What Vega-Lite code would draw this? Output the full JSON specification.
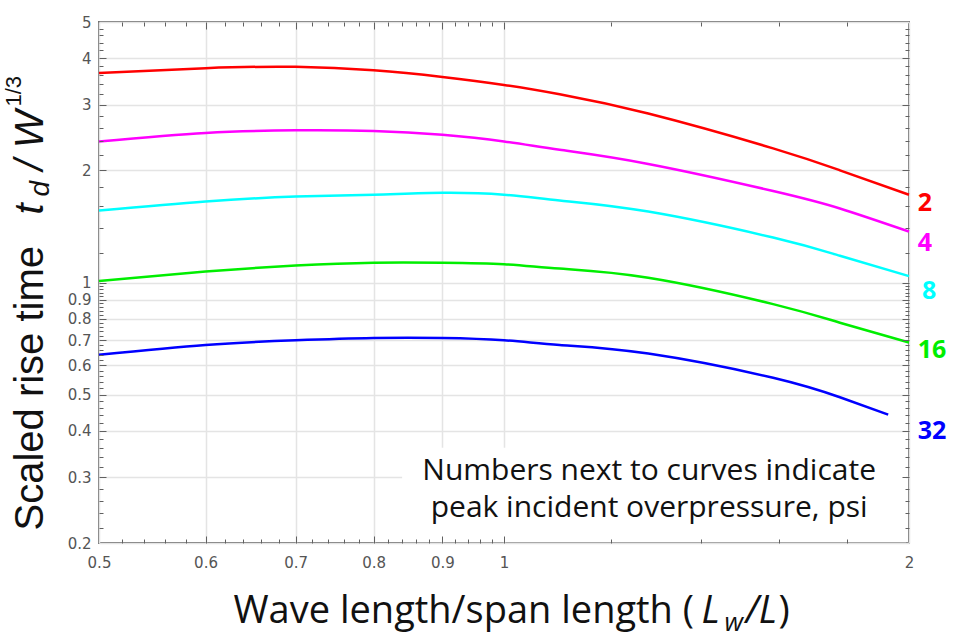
{
  "$schema": "https://vega.github.io/schema/vega-lite/v6.json",
  "width": 810,
  "height": 521,
  "autosize": {"type": "none"},
  "padding": {"left": 99, "top": 22, "right": 54, "bottom": 99},
  "background": "white",
  "config": {
    "view": {"stroke": "#707070", "strokeWidth": 2},
    "axis": {
      "domain": false,
      "labelFont": "DejaVu Sans",
      "labelFontSize": 15,
      "labelColor": "#555555",
      "labelFlush": false,
      "labelOverlap": false,
      "labelBound": false,
      "tickColor": "#606060",
      "tickWidth": 1,
      "gridColor": "#e4e4e4",
      "gridWidth": 1.5,
      "titleColor": "#111111",
      "titleAlign": "left",
      "titleBaseline": "alphabetic",
      "titlePadding": 0
    }
  },
  "datasets": {
    "curves": [
      {"series": "2", "x": 0.5, "y": 3.65},
      {"series": "2", "x": 0.6, "y": 3.76},
      {"series": "2", "x": 0.7, "y": 3.79},
      {"series": "2", "x": 0.8, "y": 3.71},
      {"series": "2", "x": 0.9, "y": 3.56},
      {"series": "2", "x": 1.0, "y": 3.39},
      {"series": "2", "x": 1.1, "y": 3.2},
      {"series": "2", "x": 1.28, "y": 2.84},
      {"series": "2", "x": 1.585, "y": 2.29},
      {"series": "2", "x": 1.777, "y": 2.0},
      {"series": "2", "x": 2.0, "y": 1.72},
      {"series": "4", "x": 0.5, "y": 2.39},
      {"series": "4", "x": 0.6, "y": 2.52},
      {"series": "4", "x": 0.7, "y": 2.56},
      {"series": "4", "x": 0.8, "y": 2.55},
      {"series": "4", "x": 0.9, "y": 2.49},
      {"series": "4", "x": 1.0, "y": 2.39},
      {"series": "4", "x": 1.1, "y": 2.27},
      {"series": "4", "x": 1.28, "y": 2.08},
      {"series": "4", "x": 1.585, "y": 1.76},
      {"series": "4", "x": 1.777, "y": 1.58},
      {"series": "4", "x": 2.0, "y": 1.37},
      {"series": "8", "x": 0.5, "y": 1.56},
      {"series": "8", "x": 0.6, "y": 1.65},
      {"series": "8", "x": 0.7, "y": 1.70},
      {"series": "8", "x": 0.8, "y": 1.72},
      {"series": "8", "x": 0.9, "y": 1.74},
      {"series": "8", "x": 1.0, "y": 1.72},
      {"series": "8", "x": 1.1, "y": 1.66},
      {"series": "8", "x": 1.28, "y": 1.55},
      {"series": "8", "x": 1.585, "y": 1.32},
      {"series": "8", "x": 1.777, "y": 1.18},
      {"series": "8", "x": 2.0, "y": 1.04},
      {"series": "16", "x": 0.5, "y": 1.01},
      {"series": "16", "x": 0.6, "y": 1.07},
      {"series": "16", "x": 0.7, "y": 1.11},
      {"series": "16", "x": 0.8, "y": 1.13},
      {"series": "16", "x": 0.9, "y": 1.13},
      {"series": "16", "x": 1.0, "y": 1.12},
      {"series": "16", "x": 1.1, "y": 1.09},
      {"series": "16", "x": 1.28, "y": 1.03},
      {"series": "16", "x": 1.585, "y": 0.875},
      {"series": "16", "x": 1.777, "y": 0.78},
      {"series": "16", "x": 2.0, "y": 0.69},
      {"series": "32", "x": 0.5, "y": 0.64},
      {"series": "32", "x": 0.6, "y": 0.68},
      {"series": "32", "x": 0.7, "y": 0.70},
      {"series": "32", "x": 0.8, "y": 0.71},
      {"series": "32", "x": 0.9, "y": 0.71},
      {"series": "32", "x": 1.0, "y": 0.70},
      {"series": "32", "x": 1.1, "y": 0.68},
      {"series": "32", "x": 1.28, "y": 0.645},
      {"series": "32", "x": 1.585, "y": 0.555},
      {"series": "32", "x": 1.777, "y": 0.492},
      {"series": "32", "x": 1.93, "y": 0.442}
    ],
    "labels": [
      {"series": "2", "x": 2.03, "y": 1.63},
      {"series": "4", "x": 2.03, "y": 1.28},
      {"series": "8", "x": 2.045, "y": 0.95},
      {"series": "16", "x": 2.03, "y": 0.66},
      {"series": "32", "x": 2.03, "y": 0.40}
    ],
    "note": [
      {"x": 1.282, "y": 0.2953, "text": "Numbers next to curves indicate\npeak incident overpressure, psi"}
    ],
    "box": [
      {"x": 0.84, "x2": 1.99, "y": 0.201, "y2": 0.36}
    ]
  },
  "resolve": {"axis": {"x": "independent", "y": "independent"}},
  "layer": [
    {
      "data": {"name": "box"},
      "mark": {"type": "rect", "fill": "white"},
      "encoding": {
        "x": {"field": "x", "type": "quantitative", "scale": {"type": "log", "domain": [0.5, 2], "nice": false}, "axis": null},
        "x2": {"field": "x2"},
        "y": {"field": "y", "type": "quantitative", "scale": {"type": "log", "domain": [0.2, 5], "nice": false}, "axis": null},
        "y2": {"field": "y2"}
      }
    },
    {
      "data": {"name": "curves"},
      "mark": {"type": "line", "strokeWidth": 2.5, "interpolate": "natural"},
      "encoding": {
        "x": {
          "field": "x", "type": "quantitative",
          "scale": {"type": "log", "domain": [0.5, 2], "nice": false},
          "axis": {
            "orient": "bottom", "values": [0.5, 0.6, 0.7, 0.8, 0.9, 1, 2], "format": "~g",
            "grid": true, "ticks": false, "labelPadding": 12,
            "title": "Wave length/span length (", "titleX": 134, "titleY": 79,
            "titleFont": "Open Sans", "titleFontSize": 38, "titleFontWeight": "normal"
          }
        },
        "y": {
          "field": "y", "type": "quantitative",
          "scale": {"type": "log", "domain": [0.2, 5], "nice": false},
          "axis": {
            "orient": "left", "values": [0.2, 0.3, 0.4, 0.5, 0.6, 0.7, 0.8, 0.9, 1, 2, 3, 4, 5], "format": "~g",
            "grid": true, "ticks": false, "labelPadding": 8,
            "title": "Scaled rise time", "titleAngle": 270, "titleX": -57, "titleY": 508,
            "titleFont": "Liberation Sans", "titleFontSize": 40, "titleFontWeight": "normal"
          }
        },
        "color": {
          "field": "series", "type": "nominal",
          "scale": {"domain": ["2", "4", "8", "16", "32"], "range": ["#ff0000", "#ff00ff", "#00ffff", "#00ee00", "#0000ff"]},
          "legend": null
        }
      }
    },
    {
      "data": {"name": "curves"},
      "mark": {"type": "point", "opacity": 0},
      "encoding": {
        "x": {
          "field": "x", "type": "quantitative",
          "scale": {"type": "log", "domain": [0.5, 2], "nice": false},
          "axis": {
            "orient": "bottom", "values": [0.6, 0.7, 0.8, 0.9, 1], "labels": false, "grid": false,
            "tickSize": -7, "zindex": 1,
            "title": "L", "titleX": 602, "titleY": 79,
            "titleFont": "Open Sans", "titleFontSize": 38, "titleFontStyle": "italic", "titleFontWeight": "normal"
          }
        },
        "y": {
          "field": "y", "type": "quantitative",
          "scale": {"type": "log", "domain": [0.2, 5], "nice": false},
          "axis": {
            "orient": "left", "values": [0.3, 0.4, 0.5, 0.6, 0.7, 0.8, 0.9, 1, 2, 3, 4], "labels": false, "grid": false,
            "tickSize": -7, "zindex": 1,
            "title": "t", "titleAngle": 270, "titleX": -57, "titleY": 192,
            "titleFont": "Liberation Sans", "titleFontSize": 40, "titleFontStyle": "italic", "titleFontWeight": "normal"
          }
        }
      }
    },
    {
      "data": {"name": "curves"},
      "mark": {"type": "point", "opacity": 0},
      "encoding": {
        "x": {
          "field": "x", "type": "quantitative",
          "scale": {"type": "log", "domain": [0.5, 2], "nice": false},
          "axis": {
            "orient": "bottom",
            "values": [0.52, 0.54, 0.56, 0.58, 0.62, 0.64, 0.66, 0.68, 0.72, 0.74, 0.76, 0.78, 0.82, 0.84, 0.86, 0.88, 0.92, 0.94, 0.96, 0.98, 1.2, 1.4, 1.6, 1.8],
            "labels": false, "grid": false, "tickSize": -4, "zindex": 1,
            "title": "w", "titleX": 625, "titleY": 87,
            "titleFont": "Open Sans", "titleFontSize": 26, "titleFontStyle": "italic", "titleFontWeight": "normal"
          }
        },
        "y": {
          "field": "y", "type": "quantitative",
          "scale": {"type": "log", "domain": [0.2, 5], "nice": false},
          "axis": {
            "orient": "left",
            "values": [0.22, 0.24, 0.26, 0.28, 0.32, 0.34, 0.36, 0.38, 0.42, 0.44, 0.46, 0.48, 0.52, 0.54, 0.56, 0.58, 0.62, 0.64, 0.66, 0.68, 0.72, 0.74, 0.76, 0.78, 0.82, 0.84, 0.86, 0.88, 0.92, 0.94, 0.96, 0.98, 1.2, 1.4, 1.6, 1.8, 2.2, 2.4, 2.6, 2.8, 3.2, 3.4, 3.6, 3.8, 4.2, 4.4, 4.6, 4.8],
            "labels": false, "grid": false, "tickSize": -4, "zindex": 1,
            "title": "d", "titleAngle": 270, "titleX": -51, "titleY": 174,
            "titleFont": "Liberation Sans", "titleFontSize": 28, "titleFontStyle": "italic", "titleFontWeight": "normal"
          }
        }
      }
    },
    {
      "data": {"name": "curves"},
      "mark": {"type": "point", "opacity": 0},
      "encoding": {
        "x": {
          "field": "x", "type": "quantitative",
          "scale": {"type": "log", "domain": [0.5, 2], "nice": false},
          "axis": {
            "orient": "top", "values": [0.6, 0.7, 0.8, 0.9, 1], "labels": false, "grid": false,
            "tickSize": -7, "zindex": 1,
            "title": "/L", "titleX": 646, "titleY": 600,
            "titleFont": "Open Sans", "titleFontSize": 38, "titleFontStyle": "italic", "titleFontWeight": "normal"
          }
        },
        "y": {
          "field": "y", "type": "quantitative",
          "scale": {"type": "log", "domain": [0.2, 5], "nice": false},
          "axis": {
            "orient": "right", "values": [0.3, 0.4, 0.5, 0.6, 0.7, 0.8, 0.9, 1, 2, 3, 4], "labels": false, "grid": false,
            "tickSize": -7, "zindex": 1,
            "title": "/ W", "titleAngle": 270, "titleX": -867, "titleY": 148,
            "titleFont": "Liberation Sans", "titleFontSize": 40, "titleFontStyle": "italic", "titleFontWeight": "normal"
          }
        }
      }
    },
    {
      "data": {"name": "curves"},
      "mark": {"type": "point", "opacity": 0},
      "encoding": {
        "x": {
          "field": "x", "type": "quantitative",
          "scale": {"type": "log", "domain": [0.5, 2], "nice": false},
          "axis": {
            "orient": "top",
            "values": [0.52, 0.54, 0.56, 0.58, 0.62, 0.64, 0.66, 0.68, 0.72, 0.74, 0.76, 0.78, 0.82, 0.84, 0.86, 0.88, 0.92, 0.94, 0.96, 0.98, 1.2, 1.4, 1.6, 1.8],
            "labels": false, "grid": false, "tickSize": -4, "zindex": 1,
            "title": ")", "titleX": 679, "titleY": 600,
            "titleFont": "Open Sans", "titleFontSize": 38, "titleFontWeight": "normal"
          }
        },
        "y": {
          "field": "y", "type": "quantitative",
          "scale": {"type": "log", "domain": [0.2, 5], "nice": false},
          "axis": {
            "orient": "right",
            "values": [0.22, 0.24, 0.26, 0.28, 0.32, 0.34, 0.36, 0.38, 0.42, 0.44, 0.46, 0.48, 0.52, 0.54, 0.56, 0.58, 0.62, 0.64, 0.66, 0.68, 0.72, 0.74, 0.76, 0.78, 0.82, 0.84, 0.86, 0.88, 0.92, 0.94, 0.96, 0.98, 1.2, 1.4, 1.6, 1.8, 2.2, 2.4, 2.6, 2.8, 3.2, 3.4, 3.6, 3.8, 4.2, 4.4, 4.6, 4.8],
            "labels": false, "grid": false, "tickSize": -4, "zindex": 1,
            "title": "1/3", "titleAngle": 270, "titleX": -889, "titleY": 84,
            "titleFont": "Liberation Sans", "titleFontSize": 22, "titleFontWeight": "normal"
          }
        }
      }
    },
    {
      "data": {"name": "labels"},
      "mark": {"type": "text", "font": "Open Sans", "fontSize": 25, "fontWeight": "bold", "align": "left", "baseline": "middle"},
      "encoding": {
        "x": {"field": "x", "type": "quantitative", "scale": {"type": "log", "domain": [0.5, 2], "nice": false}, "axis": null},
        "y": {"field": "y", "type": "quantitative", "scale": {"type": "log", "domain": [0.2, 5], "nice": false}, "axis": null},
        "text": {"field": "series"},
        "color": {"field": "series", "type": "nominal", "legend": null}
      }
    },
    {
      "data": {"name": "note"},
      "mark": {"type": "text", "font": "Open Sans", "fontSize": 30, "align": "center", "baseline": "alphabetic", "color": "#111111", "lineBreak": "\n", "lineHeight": 37},
      "encoding": {
        "x": {"field": "x", "type": "quantitative", "scale": {"type": "log", "domain": [0.5, 2], "nice": false}, "axis": null},
        "y": {"field": "y", "type": "quantitative", "scale": {"type": "log", "domain": [0.2, 5], "nice": false}, "axis": null},
        "text": {"field": "text"}
      }
    }
  ]
}
